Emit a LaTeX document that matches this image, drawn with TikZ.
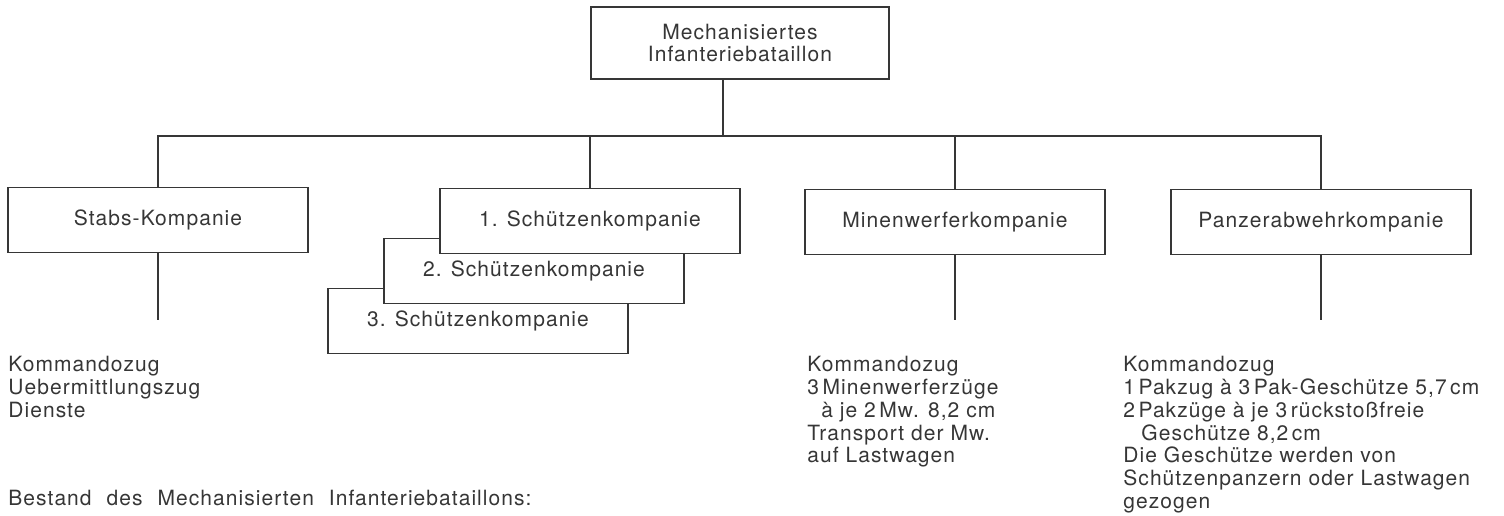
\documentclass[tikz,border=0pt]{standalone}
\usepackage{fontspec}
\setmainfont{TeX Gyre Heros}[LetterSpace=5]
\usetikzlibrary{positioning}
\definecolor{ink}{HTML}{363636}

\begin{document}
\begin{tikzpicture}[
    x=0.5pt, y=-0.5pt,
    every node/.style={align=center, font=\fontsize{10.5}{11}\selectfont, text=ink},
    unit/.style={rectangle, draw=ink, fill=white, line width=0.6pt, minimum width=150pt, minimum height=32.5pt, inner sep=0pt},
    roster/.style={anchor=north west, align=left, inner sep=0pt, font=\fontsize{10.5}{11.4}\selectfont},
    link/.style={draw=ink, line width=0.6pt}
]
\useasboundingbox (0,0) rectangle (1504,515);

% --- Bataillon
\node[unit, minimum width=149pt, minimum height=36pt] (bat) at (740,43) {Mechanisiertes\\Infanteriebataillon};

% --- Kompanien (Schützenkompanien gestaffelt)
\node[unit] (stab) at (158,220) {Stabs-Kompanie};
\node[unit] (sk3) at (478,321) {3. Schützenkompanie};
\node[unit] (sk2) at (534,271) {2. Schützenkompanie};
\node[unit] (sk1) at (590,221) {1. Schützenkompanie};
\node[unit] (mw) at (955,222) {Minenwerferkompanie};
\node[unit] (pak) at (1321,222) {Panzerabwehrkompanie};

% --- Verbindungen
\coordinate (jn) at (723,136);
\coordinate (cut) at (0,320);
\draw[link] (bat.south -| jn) -- (jn);
\draw[link] (stab.north) |- (jn) -| (pak.north);
\draw[link] (sk1.north) -- (sk1.north |- jn);
\draw[link] (mw.north) -- (mw.north |- jn);
\draw[link] (stab.south) -- (stab.south |- cut);
\draw[link] (mw.south) -- (mw.south |- cut);
\draw[link] (pak.south) -- (pak.south |- cut);

% --- Gliederung
\node[roster] (stabtxt) at (8,356) {Kommandozug\\Uebermittlungszug\\Dienste};
\node[roster] (mwtxt) at (807,356) {Kommandozug\\3\,Minenwerferzüge\\\hspace*{7pt}à je 2\,Mw. 8,2 cm\\Transport der Mw.\\auf Lastwagen};
\node[roster] (paktxt) at (1123,356) {Kommandozug\\1\,Pakzug à 3\,Pak-Geschütze 5,7\,cm\\2\,Pakzüge à je 3\,rückstoßfreie\\\hspace*{9pt}Geschütze 8,2\,cm\\Die Geschütze werden von\\Schützenpanzern oder Lastwagen\\gezogen};

% --- Bestand
\node[roster, anchor=west] (bestand) at (8,498) {\spaceskip=7.5pt Bestand des Mechanisierten Infanteriebataillons:};

\end{tikzpicture}
\end{document}
